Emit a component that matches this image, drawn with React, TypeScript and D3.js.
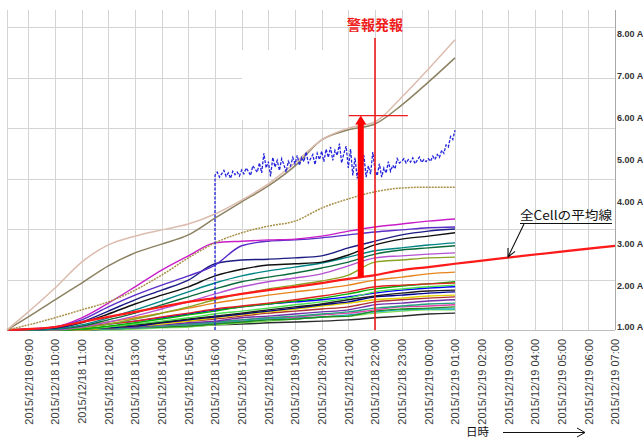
import React, { useEffect, useRef } from "react";
import * as d3 from "d3";

// sample times for the cell current series (12/18 08:12 -> 12/19 01:00)
const sampleTimes = [
  "2015/12/18 08:12", "2015/12/18 09:00", "2015/12/18 10:00", "2015/12/18 11:00",
  "2015/12/18 12:00", "2015/12/18 13:00", "2015/12/18 14:00", "2015/12/18 15:00",
  "2015/12/18 16:00", "2015/12/18 17:00", "2015/12/18 18:00", "2015/12/18 19:00",
  "2015/12/18 20:00", "2015/12/18 21:00", "2015/12/18 22:00", "2015/12/18 23:00",
  "2015/12/19 00:00", "2015/12/19 01:00",
];

const tickLabels = [
  "2015/12/18 09:00", "2015/12/18 10:00", "2015/12/18 11:00", "2015/12/18 12:00",
  "2015/12/18 13:00", "2015/12/18 14:00", "2015/12/18 15:00", "2015/12/18 16:00",
  "2015/12/18 17:00", "2015/12/18 18:00", "2015/12/18 19:00", "2015/12/18 20:00",
  "2015/12/18 21:00", "2015/12/18 22:00", "2015/12/18 23:00", "2015/12/19 00:00",
  "2015/12/19 01:00", "2015/12/19 02:00", "2015/12/19 03:00", "2015/12/19 04:00",
  "2015/12/19 05:00", "2015/12/19 06:00", "2015/12/19 07:00",
];

const yTicks = [1, 2, 3, 4, 5, 6, 7, 8];

// upper cells
const cellRose = [0.93, 1.36, 1.93, 2.55, 2.96, 3.17, 3.32, 3.46, 3.70, 4.03, 4.42, 4.92, 5.47, 5.75, 5.90, 6.49, 7.16, 7.86];
const cellOlive = [0.93, 1.24, 1.65, 2.05, 2.46, 2.77, 2.98, 3.20, 3.60, 3.99, 4.37, 4.85, 5.47, 5.71, 5.85, 6.30, 6.85, 7.43];
const cellKhaki = [0.93, 1.05, 1.22, 1.41, 1.60, 1.88, 2.24, 2.65, 3.01, 3.25, 3.41, 3.53, 3.84, 4.06, 4.23, 4.32, 4.34, 4.34];

// lower cluster
const cellMagenta = [0.93, 0.95, 1.00, 1.22, 1.57, 1.96, 2.36, 2.70, 3.01, 3.05, 3.08, 3.10, 3.17, 3.29, 3.39, 3.46, 3.53, 3.58];
const cellPurple = [0.93, 0.95, 1.00, 1.17, 1.48, 1.76, 2.00, 2.22, 2.48, 2.94, 3.05, 3.08, 3.13, 3.20, 3.27, 3.32, 3.37, 3.39];
const cellNavy = [0.93, 0.95, 0.98, 1.12, 1.38, 1.65, 1.88, 2.12, 2.51, 2.60, 2.62, 2.65, 2.70, 2.89, 3.05, 3.20, 3.29, 3.34];
const cellBlack = [0.93, 0.95, 0.98, 1.10, 1.31, 1.55, 1.76, 1.96, 2.22, 2.38, 2.48, 2.51, 2.55, 2.72, 2.96, 3.10, 3.17, 3.25];
const cellTeal = [0.93, 0.93, 0.95, 1.05, 1.22, 1.41, 1.62, 1.84, 2.05, 2.22, 2.34, 2.43, 2.53, 2.67, 2.82, 2.89, 2.96, 3.01];
const cellDkGreen = [0.93, 0.93, 0.95, 1.02, 1.17, 1.33, 1.53, 1.72, 1.91, 2.08, 2.19, 2.29, 2.41, 2.55, 2.74, 2.84, 2.89, 2.94];
const cellOrchid = [0.93, 0.93, 0.93, 1.00, 1.12, 1.26, 1.43, 1.60, 1.79, 1.96, 2.08, 2.17, 2.27, 2.46, 2.65, 2.70, 2.74, 2.77];
const cellYGreen = [0.93, 0.93, 0.93, 0.98, 1.07, 1.19, 1.33, 1.48, 1.65, 1.79, 1.91, 2.00, 2.10, 2.24, 2.55, 2.60, 2.65, 2.67];
const cellOrange = [0.93, 0.93, 0.95, 1.02, 1.12, 1.22, 1.33, 1.45, 1.57, 1.67, 1.76, 1.84, 1.91, 2.00, 2.12, 2.19, 2.27, 2.31];
const cellRed = [0.93, 0.93, 0.95, 1.00, 1.07, 1.14, 1.24, 1.33, 1.43, 1.50, 1.57, 1.65, 1.74, 1.84, 1.96, 2.00, 2.03, 2.05];
const cellGreen = [0.93, 0.93, 0.93, 0.95, 1.02, 1.10, 1.19, 1.29, 1.38, 1.48, 1.55, 1.62, 1.69, 1.79, 1.91, 1.98, 2.03, 2.08];
const cellLime = [0.93, 0.93, 0.93, 0.95, 1.00, 1.07, 1.14, 1.22, 1.31, 1.38, 1.45, 1.53, 1.60, 1.69, 1.84, 1.91, 1.96, 2.00];
const cellBlue = [0.93, 0.93, 0.95, 1.00, 1.07, 1.14, 1.22, 1.31, 1.41, 1.48, 1.55, 1.60, 1.65, 1.72, 1.81, 1.88, 1.93, 1.96];
const cellBlack2 = [0.93, 0.93, 0.93, 0.95, 1.00, 1.05, 1.12, 1.19, 1.26, 1.33, 1.41, 1.48, 1.55, 1.65, 1.74, 1.81, 1.86, 1.88];
const cellNavy2 = [0.93, 0.93, 0.93, 0.95, 0.98, 1.02, 1.10, 1.17, 1.24, 1.31, 1.38, 1.45, 1.53, 1.60, 1.72, 1.76, 1.81, 1.84];
const cellYellow = [0.93, 0.93, 0.93, 0.93, 0.98, 1.02, 1.07, 1.14, 1.22, 1.29, 1.36, 1.43, 1.50, 1.57, 1.65, 1.69, 1.74, 1.76];
const cellBrown = [0.93, 0.93, 0.93, 0.95, 0.98, 1.02, 1.10, 1.14, 1.19, 1.26, 1.33, 1.38, 1.43, 1.48, 1.60, 1.65, 1.69, 1.72];
const cellViolet = [0.93, 0.93, 0.93, 0.93, 0.98, 1.00, 1.05, 1.10, 1.14, 1.22, 1.26, 1.31, 1.36, 1.41, 1.53, 1.57, 1.62, 1.65];
const cellSea = [0.93, 0.93, 0.93, 0.93, 0.95, 0.98, 1.02, 1.07, 1.12, 1.17, 1.22, 1.26, 1.31, 1.36, 1.45, 1.50, 1.55, 1.57];
const cellPink = [0.93, 0.93, 0.93, 0.93, 0.95, 0.98, 1.02, 1.07, 1.12, 1.17, 1.22, 1.24, 1.29, 1.33, 1.41, 1.48, 1.50, 1.53];
const cellGreen2 = [0.93, 0.93, 0.93, 0.93, 0.95, 0.98, 1.00, 1.02, 1.07, 1.12, 1.17, 1.19, 1.24, 1.26, 1.38, 1.43, 1.45, 1.48];
const cellCyan = [0.93, 0.93, 0.93, 0.93, 0.95, 0.98, 1.00, 1.05, 1.10, 1.14, 1.19, 1.22, 1.24, 1.29, 1.36, 1.41, 1.43, 1.43];
const cellLtGreen = [0.93, 0.93, 0.93, 0.93, 0.93, 0.95, 0.98, 1.00, 1.05, 1.10, 1.14, 1.19, 1.24, 1.26, 1.33, 1.38, 1.41, 1.41];
const cellBottom = [0.93, 0.93, 0.93, 0.93, 0.95, 0.98, 1.00, 1.02, 1.05, 1.07, 1.10, 1.12, 1.14, 1.17, 1.22, 1.26, 1.31, 1.33];

// average of all cells, extended to 07:00
const avgTimes = [...sampleTimes, "2015/12/19 07:00"];
const avgValues = [0.93, 0.95, 1.00, 1.12, 1.24, 1.36, 1.48, 1.60, 1.69, 1.79, 1.88, 1.96, 2.05, 2.15, 2.24, 2.36, 2.43, 2.51, 2.94];

// 5-minute measured current from 16:00 (first point is the jump from zero)
const measuredStart = "2015/12/18 16:00";
const measuredValues = [
  4.62, 4.70, 4.58, 4.66, 4.74, 4.60, 4.68, 4.55, 4.72, 4.64, 4.70, 4.61,
  4.75, 4.66, 4.80, 4.72, 4.62, 4.85, 4.78, 4.70, 4.92, 4.68, 5.15, 4.80,
  4.95, 4.60, 5.05, 4.82, 4.98, 4.74, 5.02, 4.88, 4.70, 4.96, 4.85, 5.05,
  4.90, 5.10, 4.86, 5.05, 4.95, 5.18, 4.92, 5.02, 5.12, 4.88, 5.15, 5.00,
  5.20, 4.95, 5.25, 5.05, 5.30, 4.98, 5.22, 5.10, 5.38, 4.92, 5.15, 5.32,
  4.80, 5.25, 4.62, 5.05, 4.55, 4.90, 4.70, 5.10, 4.58, 4.85, 4.65, 5.18,
  4.75, 4.62, 4.90, 4.58, 4.80, 4.68, 4.95, 4.72, 4.86, 4.78, 5.02, 4.92,
  4.96, 5.02, 4.92, 5.00, 4.94, 5.04, 4.90, 4.98, 5.06, 4.93, 5.00, 4.95,
  5.02, 4.96, 5.08, 5.00, 5.12, 5.05, 5.22, 5.15, 5.35, 5.30, 5.55, 5.48,
  5.70,
];

// alarm annotation
const alarmTime = "2015/12/18 22:00";
const arrowTime = "2015/12/18 21:28";
const thresholdFrom = "2015/12/18 21:01";
const thresholdTo = "2015/12/18 23:14";
const thresholdValue = 6.05;
const arrowBase = 2.19;

const parse = d3.timeParse("%Y/%m/%d %H:%M");

export default function App() {
  const ref = useRef<SVGSVGElement>(null);

  useEffect(() => {
    const width = 643;
    const height = 441;
    const left = 7, right = 615, top = 10, bottom = 330;
    const font = "'Liberation Sans', Arial, sans-serif";
    const jp = "'Noto Sans CJK JP', sans-serif";

    const svg = d3.select(ref.current);
    svg.selectAll("*").remove();
    svg.attr("width", width).attr("height", height);

    svg.append("rect").attr("width", width).attr("height", height).attr("fill", "#fff");

    const x = d3.scaleTime()
      .domain([parse("2015/12/18 08:12")!, parse("2015/12/19 07:00")!])
      .range([left, right]);

    const y = d3.scaleLinear().domain([0.928, 8.573]).range([bottom, top]);
    // grid of the hidden primary axis
    const gridY = d3.scaleLinear().domain([0, 6.337]).range([bottom, top]);

    const tickDates = tickLabels.map((t) => parse(t)!);

    // grid
    const grid = svg.append("g").attr("stroke", "#d4d4d4").attr("stroke-width", 1);
    grid.selectAll("line.v")
      .data([x.domain()[0], ...tickDates.slice(0, -1)])
      .join("line")
      .attr("class", "v")
      .attr("x1", (d) => Math.round(x(d)) + 0.5)
      .attr("x2", (d) => Math.round(x(d)) + 0.5)
      .attr("y1", top)
      .attr("y2", bottom);
    grid.selectAll("line.h")
      .data([1, 2, 3, 4, 5, 6])
      .join("line")
      .attr("class", "h")
      .attr("x1", left)
      .attr("x2", right)
      .attr("y1", (d) => Math.round(gridY(d)) + 0.5)
      .attr("y2", (d) => Math.round(gridY(d)) + 0.5);

    // blank text box area
    svg.append("rect").attr("x", 242).attr("y", 50).attr("width", 106).attr("height", 70).attr("fill", "#fff");

    svg.append("line")
      .attr("x1", left).attr("x2", right)
      .attr("y1", bottom + 0.5).attr("y2", bottom + 0.5)
      .attr("stroke", "#bdbdbd");
    svg.append("line")
      .attr("x1", right + 0.5).attr("x2", right + 0.5)
      .attr("y1", top).attr("y2", bottom)
      .attr("stroke", "#a8a8a8");

    // right axis
    const yAxis = svg.append("g")
      .attr("transform", `translate(${right + 2},0)`)
      .call(d3.axisRight(y).tickValues(yTicks).tickSize(0).tickFormat((d) => `${(+d).toFixed(2)} A`));
    yAxis.select(".domain").remove();
    yAxis.selectAll("text")
      .attr("x", 0)
      .attr("font-family", font)
      .attr("font-size", 9)
      .attr("font-weight", "bold")
      .attr("fill", "#333");

    // bottom axis
    const xAxis = svg.append("g")
      .attr("transform", `translate(0,${bottom})`)
      .call(d3.axisBottom(x).tickValues(tickDates).tickSize(0).tickFormat((_, i) => tickLabels[i]));
    xAxis.select(".domain").remove();
    xAxis.selectAll("text")
      .attr("transform", "rotate(-90)")
      .attr("x", -9)
      .attr("y", 0)
      .attr("dy", "0.35em")
      .style("text-anchor", "end")
      .attr("font-family", font)
      .attr("font-size", 11)
      .attr("fill", "#3a3a3a");

    const times = sampleTimes.map((t) => parse(t)!);
    const line = d3.line<[Date, number]>().x((d) => x(d[0])).y((d) => y(d[1]));
    const smooth = d3.line<[Date, number]>().x((d) => x(d[0])).y((d) => y(d[1])).curve(d3.curveMonotoneX);
    const pairs = (vals: number[]) => vals.map((v, i) => [times[i], v] as [Date, number]);

    const cluster = [
      { values: cellBottom, color: "#2b2b2b" },
      { values: cellLtGreen, color: "#7fdc5a" },
      { values: cellCyan, color: "#1fb0c4" },
      { values: cellGreen2, color: "#208a20" },
      { values: cellPink, color: "#e040a8" },
      { values: cellSea, color: "#22a07e" },
      { values: cellViolet, color: "#7030a8" },
      { values: cellBrown, color: "#b03232" },
      { values: cellYellow, color: "#e2d000" },
      { values: cellNavy2, color: "#000090" },
      { values: cellBlack2, color: "#1e1e1e" },
      { values: cellBlue, color: "#0000ff" },
      { values: cellLime, color: "#4ee04e" },
      { values: cellGreen, color: "#00b000" },
      { values: cellRed, color: "#e02424" },
      { values: cellOrange, color: "#e8841c" },
      { values: cellYGreen, color: "#8aa322" },
      { values: cellOrchid, color: "#b452d2" },
      { values: cellDkGreen, color: "#0b6a3c" },
      { values: cellTeal, color: "#008585" },
      { values: cellBlack, color: "#101010" },
      { values: cellNavy, color: "#1c1c84" },
      { values: cellPurple, color: "#5a2cc8" },
      { values: cellMagenta, color: "#c81ec8" },
    ];

    svg.append("g")
      .attr("fill", "none")
      .attr("stroke-width", 1.4)
      .selectAll("path")
      .data(cluster)
      .join("path")
      .attr("stroke", (d) => d.color)
      .attr("d", (d) => smooth(pairs(d.values)));

    // average line
    const avgPairs = avgValues.map((v, i) => [parse(avgTimes[i])!, v] as [Date, number]);
    svg.append("path")
      .attr("fill", "none")
      .attr("stroke", "#ff1a1a")
      .attr("stroke-width", 2.2)
      .attr("d", smooth(avgPairs));

    // upper cells
    svg.append("path").attr("fill", "none").attr("stroke", "#a89048").attr("stroke-width", 1.5)
      .attr("stroke-dasharray", "2,1").attr("d", smooth(pairs(cellKhaki)));
    svg.append("path").attr("fill", "none").attr("stroke", "#8c8262").attr("stroke-width", 1.5)
      .attr("d", smooth(pairs(cellOlive)));
    svg.append("path").attr("fill", "none").attr("stroke", "#dcbcae").attr("stroke-width", 1.5)
      .attr("d", smooth(pairs(cellRose)));

    // measured current (blue, noisy)
    const t0 = parse(measuredStart)!;
    const measuredPairs: [Date, number][] = [[t0, 0.93]];
    measuredValues.forEach((v, i) => measuredPairs.push([d3.timeMinute.offset(t0, 5 * i), v]));
    svg.append("path")
      .attr("fill", "none")
      .attr("stroke", "#2424dc")
      .attr("stroke-width", 1.3)
      .attr("stroke-dasharray", "3,1.5")
      .attr("d", line(measuredPairs));

    // alarm annotation
    const red = "#ee1c1c";
    const ax = x(parse(alarmTime)!);
    svg.append("line")
      .attr("x1", ax).attr("x2", ax).attr("y1", 38).attr("y2", bottom)
      .attr("stroke", red).attr("stroke-width", 1.6);
    svg.append("text")
      .attr("x", ax).attr("y", 30)
      .attr("text-anchor", "middle")
      .attr("font-family", jp)
      .attr("font-size", 14)
      .attr("font-weight", "bold")
      .attr("fill", red)
      .text("警報発報");

    const ty = y(thresholdValue);
    svg.append("line")
      .attr("x1", x(parse(thresholdFrom)!)).attr("x2", x(parse(thresholdTo)!))
      .attr("y1", ty).attr("y2", ty)
      .attr("stroke", red).attr("stroke-width", 1.4);

    const arx = x(parse(arrowTime)!);
    const baseY = y(arrowBase);
    svg.append("rect")
      .attr("x", arx - 3).attr("y", ty + 8)
      .attr("width", 6).attr("height", baseY - ty - 8)
      .attr("fill", "#ff0000");
    svg.append("path")
      .attr("d", `M${arx - 5.5},${ty + 9}L${arx},${ty}L${arx + 5.5},${ty + 9}Z`)
      .attr("fill", "#ff0000");

    // average-line callout
    const cx1 = 524, cy1 = 224, cx2 = 508, cy2 = 257;
    const ang = Math.atan2(cy1 - cy2, cx1 - cx2);
    const hl = 9, spread = 0.45;
    svg.append("path")
      .attr("fill", "none")
      .attr("stroke", "#111")
      .attr("stroke-width", 1.1)
      .attr("d",
        `M${cx1},${cy1}L${cx2},${cy2}` +
        `M${cx2 + hl * Math.cos(ang + spread)},${cy2 + hl * Math.sin(ang + spread)}L${cx2},${cy2}` +
        `L${cx2 + hl * Math.cos(ang - spread)},${cy2 + hl * Math.sin(ang - spread)}`);
    svg.append("text")
      .attr("x", 520).attr("y", 220)
      .attr("font-family", jp)
      .attr("font-size", 12.5)
      .attr("fill", "#111")
      .attr("textLength", 92)
      .attr("lengthAdjust", "spacingAndGlyphs")
      .text("全Cellの平均線");
    svg.append("line")
      .attr("x1", 520).attr("x2", 612).attr("y1", 223.5).attr("y2", 223.5)
      .attr("stroke", "#111").attr("stroke-width", 1);

    // x axis title with arrow
    svg.append("text")
      .attr("x", 466).attr("y", 436)
      .attr("font-family", jp)
      .attr("font-size", 11.5)
      .attr("fill", "#111")
      .text("日時");
    svg.append("path")
      .attr("fill", "none")
      .attr("stroke", "#111")
      .attr("stroke-width", 1)
      .attr("d", "M503,432.5L585,432.5M577,428L585,432.5L577,437");
  }, []);

  return (
    <div className="parent">
      <svg ref={ref} style={{ position: "absolute", left: 0, top: 0 }} />
    </div>
  );
}
